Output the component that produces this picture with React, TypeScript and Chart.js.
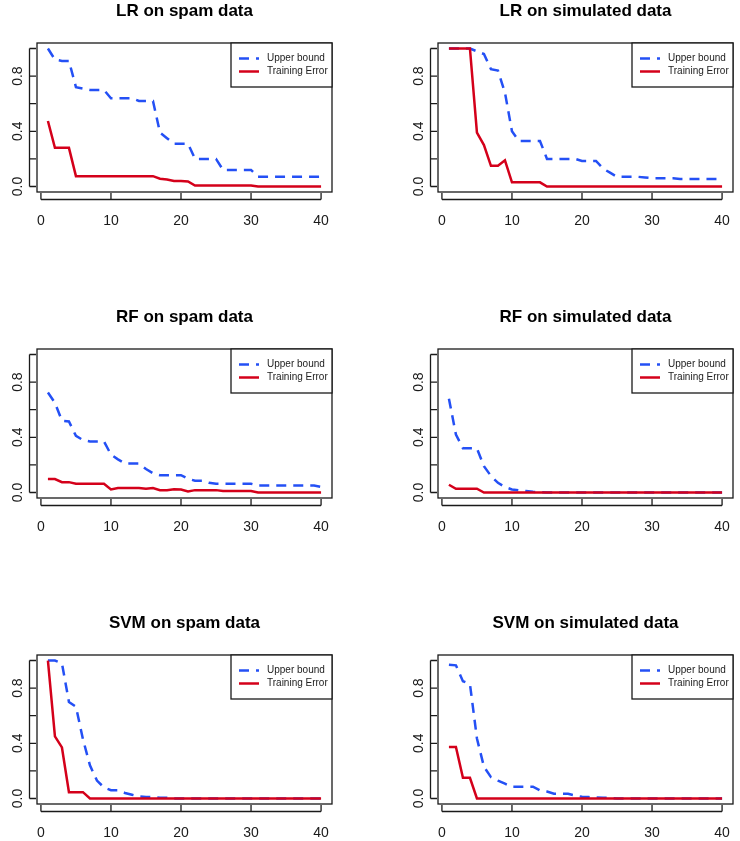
import React, { useEffect, useRef } from "react";
import { Chart, registerables } from "chart.js";

Chart.register(...registerables);

// ---------- data ----------
const iterations = Array.from({ length: 40 }, (_, i) => i + 1);
const xTickValues = [0, 10, 20, 30, 40];
const yTickValues = [0, 0.2, 0.4, 0.6, 0.8, 1.0];
const yLabelValues = [0, 0.4, 0.8];
const seriesLabels = ["Upper bound", "Training Error"];
const panelTitles = [
  "LR on spam data",
  "LR on simulated data",
  "RF on spam data",
  "RF on simulated data",
  "SVM on spam data",
  "SVM on simulated data",
];

const lrSpamUpper = [
  1.0, 0.92, 0.91, 0.91, 0.72, 0.71, 0.7, 0.7, 0.7, 0.64,
  0.64, 0.64, 0.64, 0.62, 0.62, 0.62, 0.39, 0.35, 0.31, 0.31,
  0.31, 0.2, 0.2, 0.2, 0.2, 0.12, 0.12, 0.12, 0.12, 0.12,
  0.07, 0.07, 0.07, 0.07, 0.07, 0.07, 0.07, 0.07, 0.07, 0.07,
];
const lrSpamTrain = [
  0.475, 0.28, 0.28, 0.28, 0.075, 0.075, 0.075, 0.075, 0.075, 0.075,
  0.075, 0.075, 0.075, 0.075, 0.075, 0.075, 0.056, 0.05, 0.04, 0.04,
  0.036, 0.007, 0.007, 0.007, 0.007, 0.007, 0.007, 0.007, 0.007, 0.007,
  0, 0, 0, 0, 0, 0, 0, 0, 0, 0,
];
const lrSimUpper = [
  1.0, 1.0, 1.0, 1.0, 0.98, 0.96, 0.85, 0.84, 0.68, 0.4,
  0.33, 0.33, 0.33, 0.33, 0.2, 0.2, 0.2, 0.2, 0.2, 0.185,
  0.185, 0.185, 0.13, 0.1, 0.07, 0.07, 0.07, 0.07, 0.065, 0.06,
  0.06, 0.06, 0.06, 0.055, 0.055, 0.055, 0.055, 0.055, 0.055, 0.055,
];
const lrSimTrain = [
  1.0, 1.0, 1.0, 1.0, 0.39, 0.3, 0.15, 0.15, 0.19, 0.03,
  0.03, 0.03, 0.03, 0.03, 0, 0, 0, 0, 0, 0,
  0, 0, 0, 0, 0, 0, 0, 0, 0, 0,
  0, 0, 0, 0, 0, 0, 0, 0, 0, 0,
];
const rfSpamUpper = [
  0.725, 0.65, 0.52, 0.515, 0.41, 0.38, 0.37, 0.37, 0.37, 0.275,
  0.24, 0.21, 0.21, 0.21, 0.17, 0.14, 0.125, 0.125, 0.125, 0.125,
  0.1, 0.085, 0.085, 0.07, 0.063, 0.063, 0.063, 0.063, 0.063, 0.063,
  0.05, 0.05, 0.05, 0.05, 0.05, 0.05, 0.05, 0.05, 0.05, 0.04,
];
const rfSpamTrain = [
  0.097, 0.097, 0.075, 0.075, 0.063, 0.063, 0.063, 0.063, 0.063, 0.022,
  0.032, 0.032, 0.032, 0.032, 0.027, 0.032, 0.017, 0.017, 0.024, 0.022,
  0.007, 0.017, 0.017, 0.017, 0.017, 0.01, 0.01, 0.01, 0.01, 0.01,
  0, 0, 0, 0, 0, 0, 0, 0, 0, 0,
];
const rfSimUpper = [
  0.68, 0.42, 0.32, 0.32, 0.32, 0.19, 0.12, 0.07, 0.04, 0.022,
  0.015, 0.01, 0.005, 0.003, 0, 0, 0, 0, 0, 0,
  0, 0, 0, 0, 0, 0, 0, 0, 0, 0,
  0, 0, 0, 0, 0, 0, 0, 0, 0, 0,
];
const rfSimTrain = [
  0.056, 0.027, 0.027, 0.027, 0.027, 0, 0, 0, 0, 0,
  0, 0, 0, 0, 0, 0, 0, 0, 0, 0,
  0, 0, 0, 0, 0, 0, 0, 0, 0, 0,
  0, 0, 0, 0, 0, 0, 0, 0, 0, 0,
];
const svmSpamUpper = [
  1.0, 1.0, 0.98, 0.7, 0.665, 0.43, 0.24, 0.13, 0.08, 0.06,
  0.06, 0.04, 0.027, 0.015, 0.01, 0.01, 0.005, 0.005, 0, 0,
  0, 0, 0, 0, 0, 0, 0, 0, 0, 0,
  0, 0, 0, 0, 0, 0, 0, 0, 0, 0,
];
const svmSpamTrain = [
  1.0, 0.45, 0.37, 0.046, 0.046, 0.046, 0, 0, 0, 0,
  0, 0, 0, 0, 0, 0, 0, 0, 0, 0,
  0, 0, 0, 0, 0, 0, 0, 0, 0, 0,
  0, 0, 0, 0, 0, 0, 0, 0, 0, 0,
];
const svmSimUpper = [
  0.97, 0.965, 0.85, 0.83, 0.435, 0.23, 0.155, 0.13, 0.107, 0.085,
  0.085, 0.085, 0.085, 0.058, 0.05, 0.034, 0.034, 0.034, 0.022, 0.012,
  0.01, 0.007, 0.005, 0.005, 0, 0, 0, 0, 0, 0,
  0, 0, 0, 0, 0, 0, 0, 0, 0, 0,
];
const svmSimTrain = [
  0.374, 0.374, 0.15, 0.15, 0, 0, 0, 0, 0, 0,
  0, 0, 0, 0, 0, 0, 0, 0, 0, 0,
  0, 0, 0, 0, 0, 0, 0, 0, 0, 0,
  0, 0, 0, 0, 0, 0, 0, 0, 0, 0,
];

const upperSeries = [lrSpamUpper, lrSimUpper, rfSpamUpper, rfSimUpper, svmSpamUpper, svmSimUpper];
const trainSeries = [lrSpamTrain, lrSimTrain, rfSpamTrain, rfSimTrain, svmSpamTrain, svmSimTrain];

// ---------- style ----------
const BLUE = "#2450f5";
const RED = "#d4001a";
const DASH = [10, 7];
const FONT = '"Liberation Sans", Arial, Helvetica, sans-serif';
const CANVAS_W = 339;
const CANVAS_H = 230;

function makeDecoPlugin(title: string) {
  return {
    id: "rdeco",
    afterDraw(chart: any) {
      const ctx: CanvasRenderingContext2D = chart.ctx;
      const a = chart.chartArea;
      const xs = chart.scales.x;
      const ys = chart.scales.y;
      ctx.save();
      ctx.strokeStyle = "#1a1a1a";
      ctx.fillStyle = "#1a1a1a";
      ctx.lineWidth = 1.3;
      ctx.setLineDash([]);
      // frame
      ctx.strokeRect(a.left, a.top, a.right - a.left, a.bottom - a.top);

      // x axis
      const axY = a.bottom + 7.5;
      ctx.beginPath();
      ctx.moveTo(xs.getPixelForValue(xTickValues[0]), axY);
      ctx.lineTo(xs.getPixelForValue(xTickValues[xTickValues.length - 1]), axY);
      xTickValues.forEach((v) => {
        const px = xs.getPixelForValue(v);
        ctx.moveTo(px, axY);
        ctx.lineTo(px, a.bottom + 1);
      });
      ctx.stroke();
      ctx.font = `14px ${FONT}`;
      ctx.textAlign = "center";
      ctx.textBaseline = "alphabetic";
      xTickValues.forEach((v) => {
        ctx.fillText(String(v), xs.getPixelForValue(v), a.bottom + 33);
      });

      // y axis
      const axX = a.left - 7.5;
      ctx.beginPath();
      ctx.moveTo(axX, ys.getPixelForValue(yTickValues[0]));
      ctx.lineTo(axX, ys.getPixelForValue(yTickValues[yTickValues.length - 1]));
      yTickValues.forEach((v) => {
        const py = ys.getPixelForValue(v);
        ctx.moveTo(axX, py);
        ctx.lineTo(a.left - 1, py);
      });
      ctx.stroke();
      yLabelValues.forEach((v) => {
        const py = ys.getPixelForValue(v);
        ctx.save();
        ctx.translate(a.left - 15, py);
        ctx.rotate(-Math.PI / 2);
        ctx.fillText(v.toFixed(1), 0, 0);
        ctx.restore();
      });

      // title
      ctx.font = `bold 17px ${FONT}`;
      ctx.fillStyle = "#000";
      ctx.fillText(title, (a.left + a.right) / 2, a.top - 27.5);

      // legend
      const lx = a.right - 101;
      const ly = a.top;
      ctx.fillStyle = "#fff";
      ctx.fillRect(lx, ly, 101, 44);
      ctx.strokeStyle = "#1a1a1a";
      ctx.lineWidth = 1.3;
      ctx.strokeRect(lx, ly, 101, 44);
      const entries = [
        { label: seriesLabels[0], color: BLUE, dash: DASH },
        { label: seriesLabels[1], color: RED, dash: [] as number[] },
      ];
      ctx.font = `10px ${FONT}`;
      ctx.textAlign = "left";
      ctx.textBaseline = "middle";
      entries.forEach((e, i) => {
        const cy = ly + 15.5 + i * 13;
        ctx.strokeStyle = e.color;
        ctx.lineWidth = 2.5;
        ctx.setLineDash(e.dash);
        ctx.beginPath();
        ctx.moveTo(lx + 8, cy);
        ctx.lineTo(lx + 28, cy);
        ctx.stroke();
        ctx.setLineDash([]);
        ctx.fillStyle = "#222";
        ctx.fillText(e.label, lx + 36, cy);
      });
      ctx.restore();
    },
  };
}

function Panel(props: { title: string; upper: number[]; train: number[]; left: number; top: number }) {
  const ref = useRef<HTMLCanvasElement | null>(null);
  useEffect(() => {
    if (!ref.current) return;
    const chart = new Chart(ref.current, {
      type: "line",
      data: {
        datasets: [
          {
            label: seriesLabels[1],
            data: iterations.map((x, i) => ({ x, y: props.train[i] })),
            borderColor: RED,
            borderWidth: 2.5,
            pointRadius: 0,
            tension: 0,
            fill: false,
            order: 0,
          },
          {
            label: seriesLabels[0],
            data: iterations.map((x, i) => ({ x, y: props.upper[i] })),
            borderColor: BLUE,
            borderWidth: 2.5,
            borderDash: DASH,
            pointRadius: 0,
            tension: 0,
            fill: false,
            order: 1,
          },
        ],
      },
      options: {
        animation: false,
        responsive: false,
        devicePixelRatio: 1,
        layout: { padding: { left: 37, top: 43, right: CANVAS_W - 332, bottom: CANVAS_H - 192 } },
        scales: {
          x: { type: "linear", min: -0.56, max: 41.56, display: false },
          y: { type: "linear", min: -0.04, max: 1.04, display: false },
        },
        plugins: { legend: { display: false }, tooltip: { enabled: false }, title: { display: false } },
        events: [],
      },
      plugins: [makeDecoPlugin(props.title)],
    } as any);
    return () => chart.destroy();
  }, []);
  return (
    <canvas
      ref={ref}
      width={CANVAS_W}
      height={CANVAS_H}
      style={{ position: "absolute", left: props.left, top: props.top, width: CANVAS_W, height: CANVAS_H }}
    />
  );
}

export default function App() {
  return (
    <div style={{ position: "absolute", left: 0, top: 0, width: 740, height: 841, background: "#fff", overflow: "hidden" }}>
      {panelTitles.map((t, i) => (
        <Panel
          key={t}
          title={t}
          upper={upperSeries[i]}
          train={trainSeries[i]}
          left={(i % 2) * 401}
          top={Math.floor(i / 2) * 306}
        />
      ))}
    </div>
  );
}
